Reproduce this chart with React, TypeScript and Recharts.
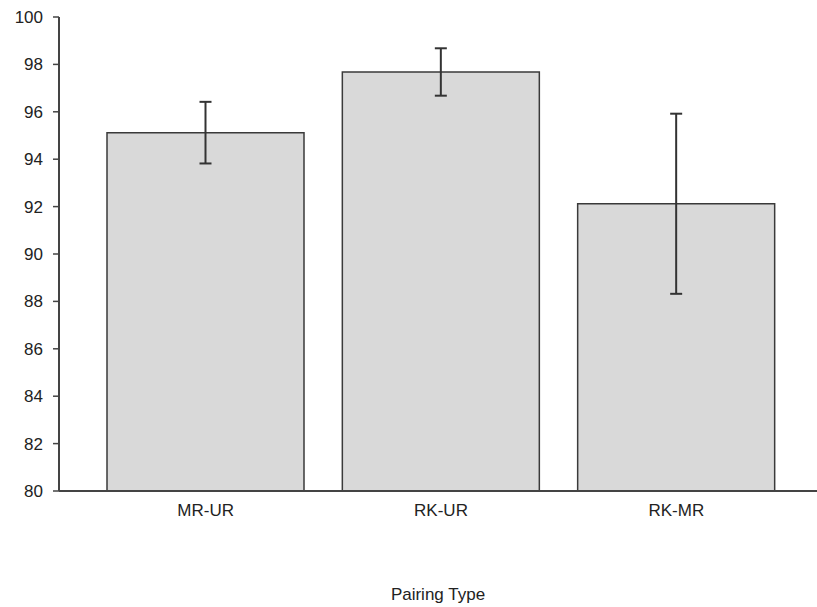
import { BarChart, Bar, XAxis, YAxis, ErrorBar } from 'recharts';

const categories = ['MR-UR', 'RK-UR', 'RK-MR'];
const accuracy = [95.12, 97.68, 92.12];
const errors = [1.3, 1.0, 3.8];
const yTicks = [80, 82, 84, 86, 88, 90, 92, 94, 96, 98, 100];

const data = categories.map((name, i) => ({
  name,
  value: accuracy[i],
  err: errors[i],
}));

const font = { fontFamily: '"Liberation Sans", Arial, sans-serif', fontSize: 17, fill: '#222' };

export default function App() {
  return (
    <div style={{ position: 'absolute', left: 0, top: 0, background: '#fff' }}>
      <BarChart
        width={817}
        height={607}
        data={data}
        margin={{ top: 17, right: 0, bottom: 0, left: 0 }}
      >
        <XAxis
          dataKey="name"
          height={116}
          padding={{ left: 29, right: 23 }}
          tickLine={false}
          tickSize={0}
          tickMargin={13}
          tick={font}
          axisLine={{ stroke: '#444', strokeWidth: 2 }}
          label={{ value: 'Pairing Type', position: 'insideBottom', offset: 7, style: font }}
        />
        <YAxis
          width={59}
          domain={[80, 100]}
          ticks={yTicks}
          interval={0}
          allowDataOverflow
          tickSize={6}
          tickMargin={10}
          tick={font}
          tickLine={{ stroke: '#444', strokeWidth: 1.5 }}
          axisLine={{ stroke: '#444', strokeWidth: 2 }}
        />
        <Bar
          dataKey="value"
          barSize={197}
          fill="#d9d9d9"
          stroke="#3a3a3a"
          strokeWidth={1.5}
          isAnimationActive={false}
        >
          <ErrorBar dataKey="err" width={6} stroke="#333" strokeWidth={2} />
        </Bar>
      </BarChart>
    </div>
  );
}
